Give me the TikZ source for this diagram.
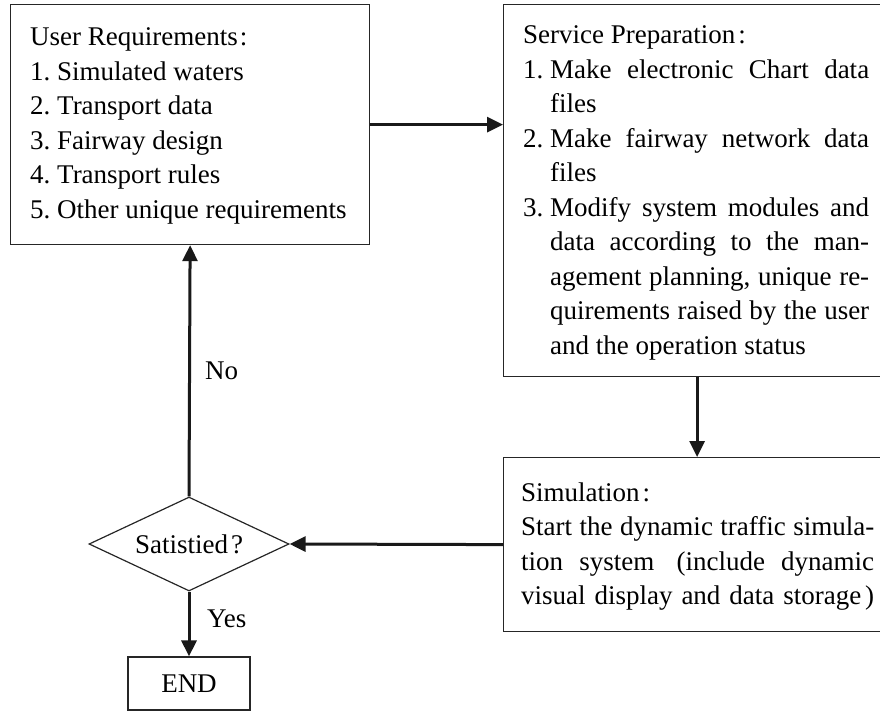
\documentclass[tikz,border=0pt]{standalone}
\usepackage{fontspec}
\setmainfont{Liberation Serif}
\usetikzlibrary{arrows.meta,shapes.geometric}
\newcommand\numlab[1]{\makebox[27pt][l]{#1}}
\newcommand\jline[1]{\makebox[\dimexpr\linewidth-27pt\relax][s]{#1}}
\newcommand\fline[1]{\makebox[\linewidth][s]{#1}}
\begin{document}
\begin{tikzpicture}[x=1pt,y=-1pt,
  box/.style={draw=black!85, line width=1.2pt, rectangle, inner sep=0pt, anchor=north west},
  arr/.style={line width=3pt, draw=black!90, -{Triangle[length=16pt,width=15pt]}},
  txt/.style={inner sep=0pt, anchor=base west, font=\fontsize{27}{34.5}\selectfont},
  lbl/.style={inner sep=0pt, font=\fontsize{27}{34.5}\selectfont}]
\useasboundingbox (0,0) rectangle (880,711);

% boxes
\node[box, minimum width=359pt, minimum height=240pt] (ur) at (10,4) {};
\node[box, minimum width=387pt, minimum height=372pt] (sp) at (503,4) {};
\node[box, minimum width=387pt, minimum height=174pt] (sim) at (503,457) {};
\node[draw=black!85, line width=1.2pt, diamond, shape aspect=2.13, minimum width=200pt, minimum height=94pt,
      inner sep=0pt, font=\fontsize{27}{34.5}\selectfont] (dia) at (189,544) {Satistied\hspace{3pt}?};
\node[box, anchor=center, minimum width=122pt, minimum height=53pt,
      font=\fontsize{27}{34.5}\selectfont] (end) at (189,683.5) {END};

% texts
\node[txt] (urt) at (30,46) {\parbox[t]{335pt}{%
User Requirements\hspace{2pt}:\\
\numlab{1.}Simulated waters\\
\numlab{2.}Transport data\\
\numlab{3.}Fairway design\\
\numlab{4.}Transport rules\\
\numlab{5.}Other unique requirements}};

\node[txt] (spt) at (523,44) {\parbox[t]{346pt}{%
Service Preparation\hspace{3pt}:\\
\numlab{1.}\jline{Make electronic Chart data}\\
\hspace*{27pt}files\\
\numlab{2.}\jline{Make fairway network data}\\
\hspace*{27pt}files\\
\numlab{3.}\jline{Modify system modules and}\\
\hspace*{27pt}\jline{data according to the man-}\\
\hspace*{27pt}\jline{agement planning, unique re-}\\
\hspace*{27pt}\jline{quirements raised by the user}\\
\hspace*{27pt}and the operation status}};

\node[txt] (simt) at (521,501) {\parbox[t]{353pt}{%
Simulation\hspace{3pt}:\\
\fline{Start the dynamic traffic simula-}\\
\fline{tion system \hspace{6pt}(include dynamic}\\
\fline{visual display and data storage\hspace{4pt})}}};

% connectors
\draw[arr] (ur.east) -- (sp.west |- ur.east);
\draw[arr] (sp.south) -- (sim.north);
\draw[arr] (sim.west) -- (dia.east);
\draw[arr] (dia.north) -- (ur.south);
\draw[arr] (dia.south) -- (end.north);

% labels
\node[lbl, anchor=base west] (no) at (205,379) {No};
\node[lbl, anchor=base west] (yes) at (207,627) {Yes};
\end{tikzpicture}
\end{document}
